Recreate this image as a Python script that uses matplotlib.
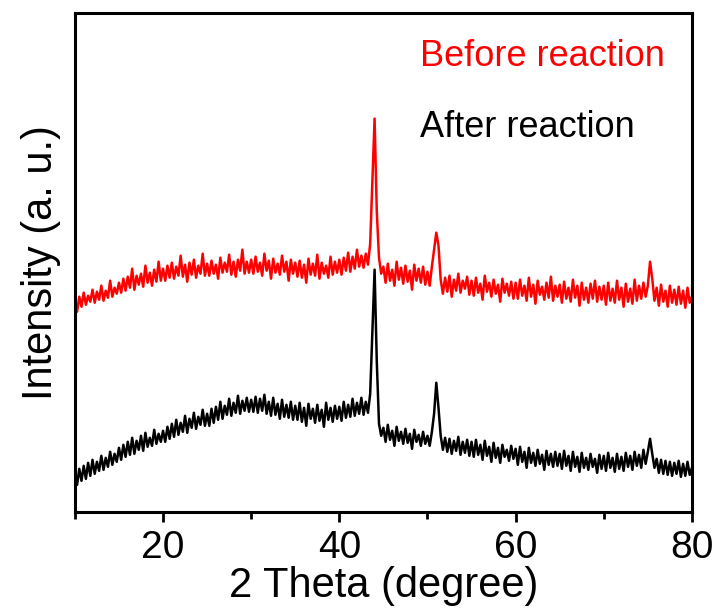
import numpy as np
import matplotlib
matplotlib.use('Agg')
import matplotlib.pyplot as plt
from matplotlib.ticker import MultipleLocator

plt.rcParams['font.family'] = ['Liberation Sans', 'DejaVu Sans']

# scan grid, 2 theta in degrees (0.25 deg step)
two_theta = np.linspace(10, 80, 281)

# intensity (arbitrary units), before reaction
before = [
    213, 200, 215, 205, 219, 207, 216, 210, 222, 209, 220, 212, 226, 211, 221, 214, 231, 215, 224, 218,
    229, 219, 233, 221, 235, 224, 243, 222, 236, 227, 238, 225, 246, 229, 239, 226, 242, 230, 250, 231,
    243, 231, 246, 234, 249, 233, 245, 236, 256, 235, 247, 230, 249, 237, 252, 234, 246, 238, 258, 236,
    248, 236, 251, 238, 247, 233, 254, 239, 249, 240, 257, 237, 250, 235, 252, 241, 262, 238, 250, 239,
    252, 238, 255, 240, 249, 236, 258, 241, 251, 233, 253, 239, 248, 237, 256, 240, 250, 231, 252, 238,
    249, 235, 251, 234, 247, 229, 253, 237, 248, 236, 257, 233, 249, 238, 246, 234, 255, 237, 250, 239,
    252, 237, 254, 241, 259, 240, 255, 243, 262, 245, 256, 244, 258, 247, 268, 330, 393, 300, 254, 238,
    245, 229, 248, 231, 242, 226, 250, 232, 244, 228, 246, 230, 241, 222, 247, 231, 243, 229, 245, 227,
    240, 226, 245, 262, 279, 266, 232, 218, 234, 220, 236, 215, 232, 221, 238, 219, 231, 223, 235, 217,
    231, 216, 234, 219, 228, 212, 236, 220, 229, 215, 232, 218, 227, 210, 233, 219, 228, 216, 230, 213,
    229, 213, 232, 216, 226, 211, 234, 215, 227, 208, 231, 217, 225, 212, 229, 214, 235, 211, 226, 215,
    227, 209, 230, 213, 224, 210, 232, 214, 226, 206, 229, 212, 224, 209, 228, 213, 231, 210, 225, 212,
    226, 207, 229, 211, 223, 209, 231, 212, 224, 205, 228, 210, 223, 208, 232, 211, 226, 213, 229, 215,
    226, 250, 233, 211, 224, 206, 227, 210, 221, 205, 226, 209, 222, 207, 225, 208, 221, 204, 224, 209,
    215,
]

# after reaction
after = [
    40, 27, 43, 31, 46, 33, 49, 36, 52, 38, 50, 41, 56, 42, 54, 45, 60, 47, 58, 50,
    64, 52, 67, 55, 70, 57, 74, 58, 71, 62, 76, 61, 79, 65, 74, 66, 82, 68, 78, 70,
    81, 70, 85, 73, 88, 75, 92, 77, 89, 80, 96, 79, 93, 84, 99, 83, 95, 87, 102, 86,
    98, 86, 103, 89, 105, 92, 110, 93, 106, 97, 113, 96, 109, 99, 116, 98, 111, 101, 114, 100,
    112, 100, 115, 99, 113, 101, 117, 98, 110, 96, 114, 97, 108, 93, 112, 95, 107, 94, 110, 92,
    106, 92, 109, 90, 104, 86, 108, 93, 103, 89, 107, 91, 102, 85, 109, 92, 104, 90, 106, 93,
    105, 91, 110, 94, 107, 95, 113, 96, 109, 98, 114, 97, 110, 99, 118, 180, 242, 150, 88, 76,
    84, 70, 87, 72, 81, 66, 85, 71, 80, 68, 83, 69, 78, 63, 82, 70, 77, 66, 80, 68,
    76, 66, 80, 98, 129, 104, 76, 62, 74, 60, 73, 58, 71, 61, 75, 57, 70, 59, 72, 56,
    70, 55, 72, 57, 67, 52, 71, 56, 65, 50, 69, 54, 64, 49, 67, 55, 62, 51, 66, 53,
    63, 47, 65, 50, 60, 44, 64, 49, 59, 46, 62, 48, 57, 42, 61, 47, 58, 45, 60, 46,
    58, 43, 61, 46, 56, 41, 60, 45, 55, 40, 59, 44, 54, 42, 58, 45, 53, 39, 57, 43,
    56, 41, 59, 44, 54, 40, 58, 43, 55, 41, 59, 45, 56, 42, 60, 46, 57, 44, 62, 48,
    60, 73, 58, 44, 53, 39, 52, 38, 51, 37, 50, 36, 49, 38, 51, 35, 48, 36, 50, 37,
    44,
]

fig = plt.figure(figsize=(7.2, 6.13), dpi=100)
ax = fig.add_axes([0.104, 0.165, 0.857, 0.813])

ax.plot(two_theta, before, color='#ff0000', lw=1.8)
ax.plot(two_theta, after, color='black', lw=1.8)

ax.set_xlim(10, 80)
ax.set_ylim(0, 498)
ax.xaxis.set_major_locator(MultipleLocator(20))
ax.xaxis.set_minor_locator(MultipleLocator(10))
ax.tick_params(axis='x', which='major', direction='out', length=7, width=2, labelsize=28, pad=6)
ax.tick_params(axis='x', which='minor', direction='out', length=5, width=2)
ax.set_yticks([])
for s in ax.spines.values():
    s.set_linewidth(2.2)

ax.set_xlabel('2 Theta (degree)', fontsize=30, labelpad=0)
ax.set_ylabel('Intensity (a. u.)', fontsize=30, labelpad=10)

ax.text(0.559, 0.913, 'Before reaction', color='#ff0000', fontsize=26,
        transform=ax.transAxes, va='center', ha='left')
ax.text(0.559, 0.772, 'After reaction', color='black', fontsize=26,
        transform=ax.transAxes, va='center', ha='left')

fig.savefig('out.png', dpi=100)
